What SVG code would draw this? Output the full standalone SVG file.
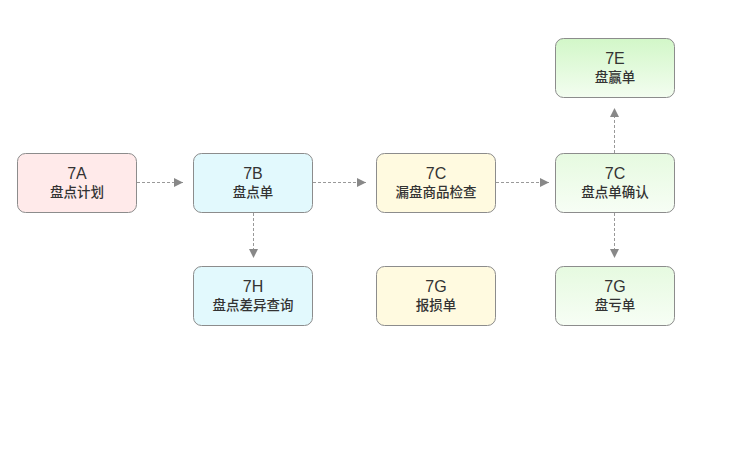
<svg xmlns="http://www.w3.org/2000/svg" width="732" height="452" viewBox="0 0 732 452">
<style>
.box{stroke:#8c8c8c;stroke-width:1}
.t1{font-family:"Liberation Sans","Noto Sans CJK SC",sans-serif;font-size:16px;fill:#333;text-anchor:middle}
.t2{font-family:"Noto Sans CJK SC","Liberation Sans",sans-serif;font-size:13.5px;fill:#333;text-anchor:middle;font-weight:500}
.edge{stroke:#999;stroke-width:1;stroke-dasharray:3,2;fill:none}
</style>
<defs>
<marker id="ah" viewBox="0 0 10 10" refX="10" refY="5" markerWidth="9" markerHeight="10" markerUnits="userSpaceOnUse" orient="auto">
<path d="M0,0 L10,5 L0,10 z" fill="#888"/>
</marker>
<linearGradient id="gE" x1="0" y1="0" x2="0" y2="1"><stop offset="0" stop-color="#d2f7c8"/><stop offset="1" stop-color="#f3fdf0"/></linearGradient>
<linearGradient id="gG" x1="0" y1="0" x2="0" y2="1"><stop offset="0" stop-color="#e6fae0"/><stop offset="1" stop-color="#f7fef5"/></linearGradient>
</defs>
<rect width="732" height="452" fill="#fff"/>
<g id="edges">
<line class="edge" x1="137" y1="182.5" x2="183" y2="182.5" marker-end="url(#ah)"/>
<line class="edge" x1="313" y1="182.5" x2="366" y2="182.5" marker-end="url(#ah)"/>
<line class="edge" x1="496" y1="182.5" x2="549" y2="182.5" marker-end="url(#ah)"/>
<line class="edge" x1="253.5" y1="213" x2="253.5" y2="258" marker-end="url(#ah)"/>
<line class="edge" x1="614.5" y1="213" x2="614.5" y2="258" marker-end="url(#ah)"/>
<line class="edge" x1="614.5" y1="153" x2="614.5" y2="108" marker-end="url(#ah)"/>
</g>
<g id="n7A"><rect class="box" x="17.5" y="153.5" width="119" height="59" rx="8" fill="#ffeaea"/><text class="t1" x="77" y="179">7A</text><text class="t2" x="77" y="197">盘点计划</text></g>
<g id="n7B"><rect class="box" x="193.5" y="153.5" width="119" height="59" rx="8" fill="#e2f9fd"/><text class="t1" x="253" y="179">7B</text><text class="t2" x="253" y="197">盘点单</text></g>
<g id="n7C1"><rect class="box" x="376.5" y="153.5" width="119" height="59" rx="8" fill="#fffae0"/><text class="t1" x="436" y="179">7C</text><text class="t2" x="436" y="197">漏盘商品检查</text></g>
<g id="n7C2"><rect class="box" x="555.5" y="153.5" width="119" height="59" rx="8" fill="url(#gG)"/><text class="t1" x="615" y="179">7C</text><text class="t2" x="615" y="197">盘点单确认</text></g>
<g id="n7E"><rect class="box" x="555.5" y="38.5" width="119" height="59" rx="8" fill="url(#gE)"/><text class="t1" x="615" y="64">7E</text><text class="t2" x="615" y="82">盘赢单</text></g>
<g id="n7H"><rect class="box" x="193.5" y="266.5" width="119" height="59" rx="8" fill="#e2f9fd"/><text class="t1" x="253" y="292">7H</text><text class="t2" x="253" y="310">盘点差异查询</text></g>
<g id="n7G1"><rect class="box" x="376.5" y="266.5" width="119" height="59" rx="8" fill="#fffae0"/><text class="t1" x="436" y="292">7G</text><text class="t2" x="436" y="310">报损单</text></g>
<g id="n7G2"><rect class="box" x="555.5" y="266.5" width="119" height="59" rx="8" fill="url(#gG)"/><text class="t1" x="615" y="292">7G</text><text class="t2" x="615" y="310">盘亏单</text></g>
</svg>
